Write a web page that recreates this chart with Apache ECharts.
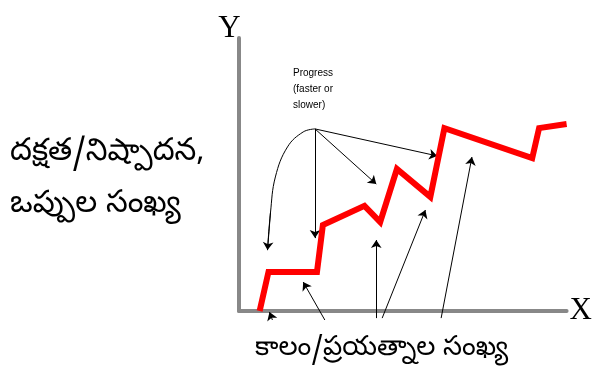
<!DOCTYPE html>
<html><head><meta charset="utf-8">
<script src="https://cdn.jsdelivr.net/npm/echarts@6/dist/echarts.min.js"></script>
<style>html,body{margin:0;padding:0;background:#fff}#c{width:595px;height:375px}</style>
</head><body><div id="c"></div>
<script>
// Red progress path (x: time/attempts 0-100, y: performance 0-100)
const progressX = [6.3, 9.0, 23.8, 25.6, 38.3, 43.1, 48.2, 58.4, 62.7, 89.5, 91.6, 100];
const progressY = [0, 14.3, 14.3, 31.5, 38.5, 32.6, 52.0, 41.8, 67.0, 56.0, 67.0, 68.5];
// Curved annotation arc
const arcX = [23.2, 19.6, 14.8, 11.1, 9.6, 8.7];
const arcY = [66.7, 65.6, 60.1, 49.1, 35.9, 22.3];
// Straight annotation arrows: [fromX, fromY, toX, toY]
const arrowFromX = [23.2, 23.2, 23.2, 9.6, 26.2, 10.2, 41.9, 43.7, 61.7];
const arrowFromY = [66.7, 66.7, 66.7, 35.9, -3.3, -3.3, -2.6, -2.6, -2.6];
const arrowToX   = [23.2, 41.9, 60.5, 8.7, 19.6, 9.3, 41.9, 56.9, 71.1];
const arrowToY   = [26.7, 46.5, 56.8, 22.3, 10.6, -0.4, 26.0, 37.0, 56.4];
// Text
const yAxisName = 'Y';
const xAxisName = 'X';
const yLabelLines = ['దక్షత/నిష్పాదన,', 'ఒప్పుల సంఖ్య'];
const xLabel = 'కాలం/ప్రయత్నాల సంఖ్య';
const noteLines = ['Progress', '(faster or', 'slower)'];

const chart = echarts.init(document.getElementById('c'), null, {renderer: 'canvas'});
const teluguFont = '"Noto Sans Telugu", "Noto Sans", "DejaVu Sans", sans-serif';

const arrows = arrowFromX.map((x, i) => ({coords: [[x, arrowFromY[i]], [arrowToX[i], arrowToY[i]]]}));

chart.setOption({
  animation: false,
  backgroundColor: '#fff',
  grid: {left: 239, right: 25, top: 38, bottom: 64},
  xAxis: {
    type: 'value', min: 0, max: 100,
    name: xAxisName, nameLocation: 'end', nameGap: 3,
    nameTextStyle: {fontFamily: '"Liberation Serif", "DejaVu Serif", serif', fontSize: 31, color: '#000', padding: [14, 0, 0, 0]},
    axisLine: {show: true, lineStyle: {color: '#888', width: 4}},
    axisTick: {show: false}, axisLabel: {show: false}, splitLine: {show: false}
  },
  yAxis: {
    type: 'value', min: 0, max: 100,
    name: yAxisName, nameLocation: 'end', nameGap: -6,
    nameTextStyle: {fontFamily: '"Liberation Serif", "DejaVu Serif", serif', fontSize: 31, color: '#000', padding: [0, 19, 0, 0]},
    axisLine: {show: true, lineStyle: {color: '#888', width: 4}},
    axisTick: {show: false}, axisLabel: {show: false}, splitLine: {show: false}
  },
  graphic: [
    {type: 'text', left: 10, top: 140, style: {text: yLabelLines[0], font: '31px ' + teluguFont, fill: '#000'}},
    {type: 'text', left: 10, top: 192, style: {text: yLabelLines[1], font: '31px ' + teluguFont, fill: '#000'}},
    {type: 'text', left: 255, top: 338, style: {text: xLabel, font: '27px ' + teluguFont, fill: '#000'}},
    {type: 'text', left: 293, top: 65, style: {text: noteLines.join('\n'), font: '10px "Liberation Sans", Arial, sans-serif', lineHeight: 16, fill: '#000'}}
  ],
  series: [
    {
      type: 'line', data: arcX.map((x, i) => [x, arcY[i]]), smooth: 0.4, showSymbol: false,
      lineStyle: {color: '#000', width: 1}, silent: true, clip: false, z: 2
    },
    {
      type: 'lines', coordinateSystem: 'cartesian2d', data: arrows,
      symbol: ['none', 'arrow'], symbolSize: 8, clip: false,
      lineStyle: {color: '#000', width: 1, opacity: 1}, silent: true, z: 2
    },
    {
      type: 'line', data: progressX.map((x, i) => [x, progressY[i]]), showSymbol: false,
      lineStyle: {color: '#ff0000', width: 6, join: 'miter'}, silent: true, clip: false, z: 3
    }
  ]
});
</script></body></html>
